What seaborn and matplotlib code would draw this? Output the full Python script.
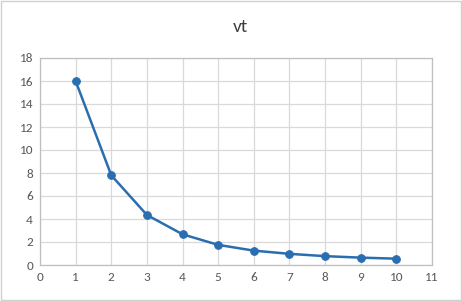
import matplotlib
matplotlib.use("Agg")
import matplotlib.pyplot as plt
import seaborn as sns
import pandas as pd
from matplotlib.patches import Rectangle

t = [1, 2, 3, 4, 5, 6, 7, 8, 9, 10]
v = [16, 7.8, 4.35, 2.67, 1.75, 1.25, 0.97, 0.77, 0.64, 0.55]
title = "vt"
xticks = list(range(0, 12))
yticks = list(range(0, 20, 2))

sns.set_theme(style="whitegrid")
plt.rcParams['font.family'] = ['Carlito', 'Liberation Sans', 'DejaVu Sans']

fig = plt.figure(figsize=(4.62, 3.01), dpi=100)
ax = fig.add_axes([40/462, 1-265/301, (432-40)/462, (265-58)/301])

df = pd.DataFrame({"t": t, "v": v})
sns.lineplot(data=df, x="t", y="v", ax=ax, color="#2A6EB0", linewidth=1.8,
             marker="o", markersize=5.5, markeredgecolor="#2A6EB0", markerfacecolor="#2A6EB0")

ax.set_xlim(0, 11)
ax.set_ylim(0, 18)
ax.set_xticks(xticks)
ax.set_yticks(yticks)
ax.set_xlabel("")
ax.set_ylabel("")
ax.grid(True, color="#D9D9D9", linewidth=0.9)
for s in ax.spines.values():
    s.set_color("#BFBFBF")
    s.set_linewidth(0.9)
ax.tick_params(axis="both", labelsize=9.5, labelcolor="#595959", length=0, pad=5)
ax.set_facecolor("white")

fig.text(0.52, 1-27/301, title, ha="center", va="center", fontsize=14, color="#404040")
fig.patches.append(Rectangle((0.003, 0.003), 0.994, 0.994, transform=fig.transFigure,
                             fill=False, edgecolor="#D0D0D0", linewidth=1))

fig.savefig("out.png", dpi=100)
